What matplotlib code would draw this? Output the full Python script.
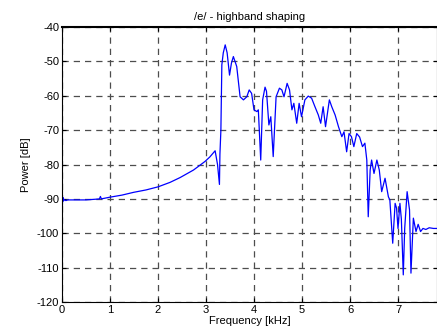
import matplotlib.pyplot as plt
import numpy as np

plt.rcParams['font.family'] = ['Liberation Sans', 'DejaVu Sans']
plt.rcParams['axes.unicode_minus'] = False

# spectrum of the shaped highband, frequency in kHz, power in dB
freq_khz = [0.0, 0.01, 0.02, 0.03, 0.05, 0.08, 0.12, 0.3, 0.5, 0.7, 0.78, 0.8, 0.82,
            1.0, 1.25, 1.49, 1.75, 2.0, 2.25, 2.46, 2.74, 2.875, 2.98, 3.08, 3.19,
            3.24, 3.28, 3.29, 3.31, 3.33, 3.36, 3.40, 3.44, 3.49, 3.53, 3.57, 3.64,
            3.71, 3.78, 3.85, 3.90, 3.95, 4.00, 4.06, 4.09, 4.14, 4.18, 4.23, 4.26,
            4.31, 4.35, 4.40, 4.46, 4.53, 4.58, 4.625, 4.69, 4.74, 4.79, 4.83, 4.89,
            4.94, 4.99, 5.06, 5.13, 5.20, 5.27, 5.34, 5.39, 5.44, 5.49, 5.57, 5.62,
            5.69, 5.76, 5.83, 5.875, 5.93, 5.98, 6.03, 6.08, 6.14, 6.20, 6.26, 6.31,
            6.35, 6.38, 6.42, 6.45, 6.50, 6.56, 6.61, 6.66, 6.73, 6.80, 6.83, 6.89,
            6.94, 6.97, 7.00, 7.04, 7.07, 7.11, 7.14, 7.19, 7.24, 7.27, 7.32, 7.375,
            7.42, 7.47, 7.52, 7.58, 7.65, 7.74, 7.8125]
power_db = [-96.0, -91.0, -89.6, -90.6, -90.2, -90.5, -90.3, -90.3, -90.3, -90.1, -90.0, -89.3, -90.0,
            -89.5, -88.9, -88.1, -87.4, -86.5, -85.2, -83.8, -81.6, -80.2, -79.1, -77.8, -76.0,
            -80.0, -85.8, -77.0, -70.0, -51.0, -47.5, -45.2, -47.5, -54.0, -50.5, -48.6, -51.5,
            -60.3, -61.2, -60.3, -58.3, -59.3, -64.1, -64.6, -64.1, -78.7, -61.2, -57.5, -58.7,
            -68.5, -66.1, -77.7, -60.3, -57.8, -58.3, -60.3, -56.4, -58.3, -64.1, -62.2, -68.0,
            -62.2, -66.1, -61.2, -60.1, -60.7, -63.2, -65.6, -68.0, -63.2, -69.0, -61.2, -63.2,
            -65.6, -69.0, -71.9, -70.5, -76.3, -71.0, -71.9, -74.8, -71.0, -72.0, -74.8, -73.8,
            -78.7, -95.2, -81.6, -78.7, -82.6, -78.7, -81.6, -87.9, -84.0, -89.4, -90.3, -102.9,
            -91.3, -92.7, -98.6, -91.3, -95.9, -112.1, -98.5, -87.9, -93.2, -111.6, -95.6, -99.5,
            -97.4, -99.5, -98.6, -98.9, -98.4, -98.6, -98.6]

x_ticks = [0, 1, 2, 3, 4, 5, 6, 7]
y_ticks = [-120, -110, -100, -90, -80, -70, -60, -50, -40]

fig = plt.figure(figsize=(4.37, 3.30), dpi=100)
ax = fig.add_axes([0.1419, 0.0848, 0.8581, 0.8334])
ax.plot(freq_khz, power_db, color='#0000ff', linewidth=0.9)

ax.set_xlim(0, 7.8125)
ax.set_ylim(-120, -40)
ax.set_xticks(x_ticks)
ax.set_yticks(y_ticks)
ax.tick_params(direction='in', length=3, labelsize=8, top=True, right=True, pad=2)
ax.grid(True, color='0.3', linestyle=(0, (5, 4)), linewidth=0.9)
for s in ax.spines.values():
    s.set_linewidth(0.8)
ax.spines['top'].set_linewidth(1.5)

ax.set_title('/e/ - highband shaping', fontsize=8, pad=5)
ax.set_xlabel('Frequency [kHz]', fontsize=8, labelpad=1)
ax.set_ylabel('Power [dB]', fontsize=8, labelpad=4)

fig.savefig('out.png', dpi=100)
